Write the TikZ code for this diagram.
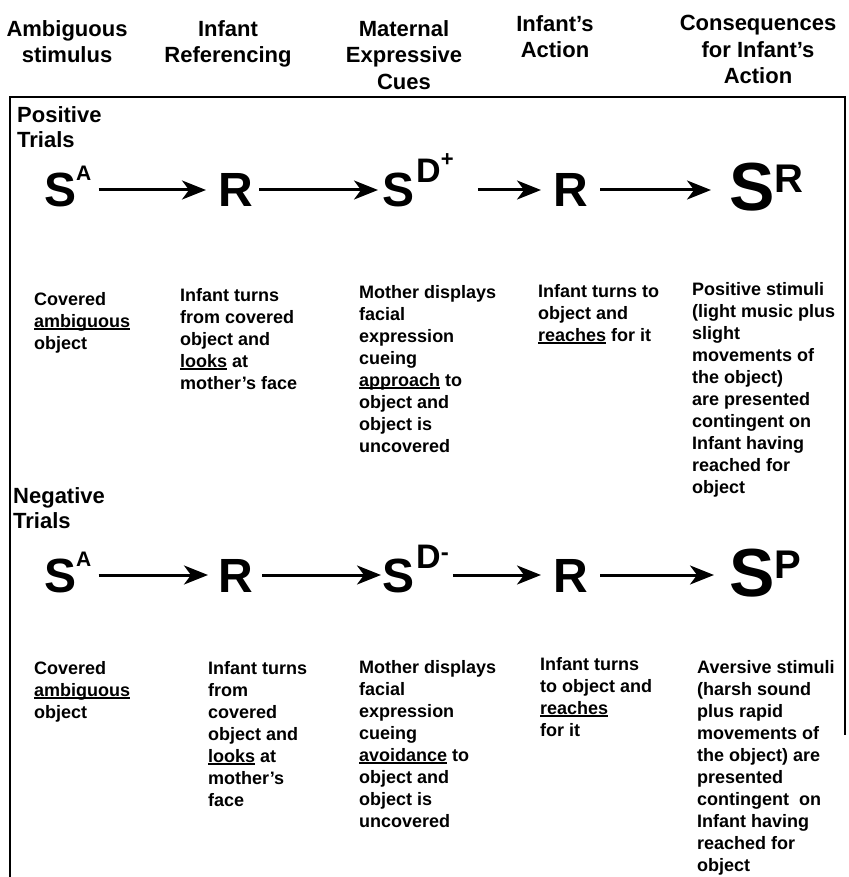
\documentclass[tikz,border=0pt]{standalone}
\usepackage{fontspec}
\setmainfont{Liberation Sans}
\usetikzlibrary{arrows.meta, positioning}

\newcommand{\undr}[1]{\setbox0=\hbox{#1}\rlap{\rule[-2.5pt]{\wd0}{1.3pt}}\box0\relax}
\newcommand{\supsm}[1]{\raisebox{26pt}{\fontsize{21}{21}\selectfont #1}}
\newcommand{\supbig}[1]{\raisebox{18pt}{\fontsize{40}{40}\selectfont #1}}
\newcommand{\supD}[1]{\hspace{2pt}\raisebox{24pt}{\fontsize{34}{34}\selectfont D#1}}

\tikzset{
	head/.style={anchor=north, inner sep=0pt, align=center, font=\fontsize{22}{26.5}\selectfont\bfseries},
	trial/.style={anchor=north west, inner sep=0pt, align=left, font=\fontsize{22}{25}\selectfont\bfseries},
	body/.style={anchor=north west, inner sep=0pt, align=left, font=\fontsize{18}{22}\selectfont\bfseries},
	sym/.style={anchor=base west, inner sep=0pt, text height=34pt, text depth=0pt, font=\fontsize{48}{48}\selectfont\bfseries},
	bigsym/.style={anchor=base west, inner sep=0pt, text height=42pt, text depth=0pt, font=\fontsize{68}{68}\selectfont\bfseries},
	arr/.style={-{Stealth[length=24pt,width=19pt,inset=7pt]}, line width=3pt, shorten <=7pt, shorten >=12pt},
	frame/.style={line width=2pt}
}

\begin{document}
\begin{tikzpicture}[x=1pt, y=-1pt]
	\useasboundingbox (0,0) rectangle (848,877);

	     % headings %
	\node[head] (h1) at (67,20) {Ambiguous\\stimulus};
	\node[head] (h2) at (228,20) {Infant\\Referencing};
	\node[head] (h3) at (404,20) {Maternal\\Expressive\\Cues};
	\node[head] (h4) at (555,15) {Infant's\\Action};
	\node[head] (h5) at (758,15) {Consequences\\for Infant's\\Action};

	\draw[frame] (10,877) -- (10,97) -- (845,97) -- (845,735);

	     % positive trials %
	\node[trial] (pos) at (17,106) {Positive\\Trials};
	\node[sym] (sa1) at (44,207) {S\supsm{A}};
	\node[sym] (r1) at (218,207) {R};
	\node[sym] (sd1) at (382,207) {S\supD{\raisebox{16pt}{\fontsize{22}{22}\selectfont +}}};
	\node[sym] (r1b) at (553,207) {R};
	\node[bigsym] (sr1) at (729,211) {S\supbig{R}};

	\node[body] (cov1) at (34,292) {Covered\\\undr{ambiguous}\\object};
	\node[body] (look1) at (180,288) {Infant turns\\from covered\\object and\\\undr{looks} at\\mother's face};
	\node[body] (cue1) at (359,285) {Mother displays\\facial\\expression\\cueing\\\undr{approach} to\\object and\\object is\\uncovered};
	\node[body] (act1) at (538,284) {Infant turns to\\object and\\\undr{reaches} for it};
	\node[body] (con1) at (692,282) {Positive stimuli\\(light music plus\\slight\\movements of\\the object)\\are presented\\contingent on\\Infant having\\reached for\\object};

	     % negative trials %
	\node[trial] (neg) at (13,487) {Negative\\Trials};
	\node[sym] (sa2) at (44,592) {S\supsm{A}};
	\node[sym] (r2) at (218,592) {R};
	\node[sym] (sd2) at (382,592) {S\supD{\raisebox{8pt}{\fontsize{24}{24}\selectfont -}}};
	\node[sym] (r2b) at (553,592) {R};
	\node[bigsym] (sp2) at (729,596) {S\supbig{P}};

	\node[body] (cov2) at (34,661) {Covered\\\undr{ambiguous}\\object};
	\node[body] (look2) at (208,661) {Infant turns\\from\\covered\\object and\\\undr{looks} at\\mother's\\face};
	\node[body] (cue2) at (359,660) {Mother displays\\facial\\expression\\cueing\\\undr{avoidance} to\\object and\\object is\\uncovered};
	\node[body] (act2) at (540,657) {Infant turns\\to object and\\\undr{reaches}\\for it};
	\node[body] (con2) at (697,660) {Aversive stimuli\\(harsh sound\\plus rapid\\movements of\\the object) are\\presented\\contingent~ on\\Infant having\\reached for\\object};

	     % edges %
	\draw[arr] (sa1) -- (r1);
	\draw[arr, shorten <=6pt, shorten >=4pt] (r1) -- (sd1);
	\draw[arr, shorten <=24pt] (sd1) -- (r1b);
	\draw[arr, shorten <=12pt, shorten >=18pt] (r1b) -- (sr1);

	\draw[arr, shorten >=10pt] (sa2) -- (r2);
	\draw[arr, shorten <=9pt, shorten >=1pt] (r2) -- (sd2);
	\draw[arr, shorten <=4pt] (sd2) -- (r2b);
	\draw[arr, shorten <=12pt, shorten >=15pt] (r2b) -- (sp2);
\end{tikzpicture}
\end{document}
